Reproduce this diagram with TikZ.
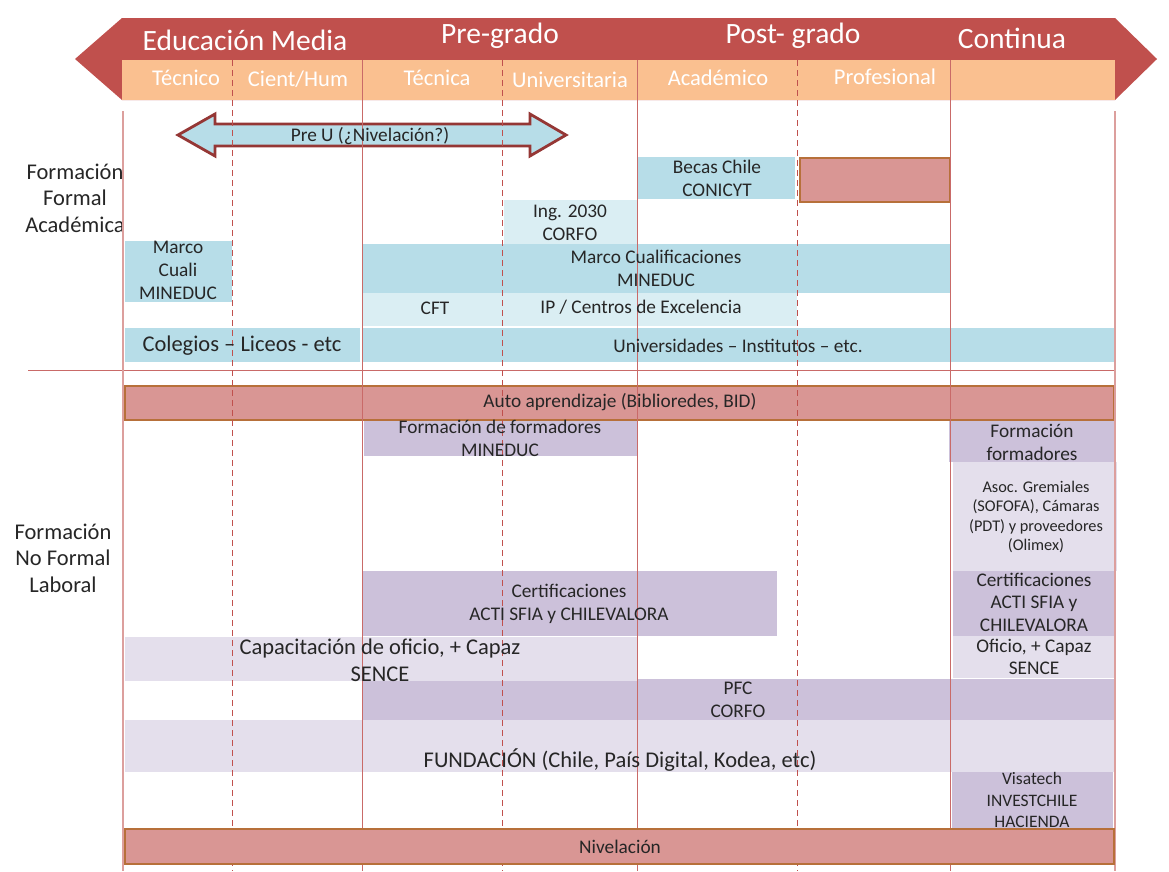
\documentclass[tikz,border=0pt]{standalone}
\usepackage{fontspec}
\setmainfont{Carlito}
\definecolor{bandred}{HTML}{C0504D}
\definecolor{bandor}{HTML}{FAC090}
\definecolor{cblue}{HTML}{B7DDE8}
\definecolor{clblue}{HTML}{DAEEF3}
\definecolor{cpurp}{HTML}{CCC1DA}
\definecolor{clpurp}{HTML}{E4DFEC}
\definecolor{cpink}{HTML}{D99694}
\definecolor{cbrown}{HTML}{B7703A}
\definecolor{cdark}{HTML}{953735}
\definecolor{ctext}{HTML}{262626}
\newcommand\bx[6]{\node[#2,anchor=north west,minimum width={#5-#3},minimum height={#6-#4}] (#1) at (#3,#4) {};}
\tikzset{
  base/.style={inner sep=0pt,outer sep=0pt},
  bluebox/.style={base,fill=cblue},
  lbluebox/.style={base,fill=clblue},
  purpbox/.style={base,fill=cpurp},
  lpurpbox/.style={base,fill=clpurp},
  pinkbox/.style={base,fill=cpink,draw=cbrown,line width=2.8pt},
  gridsolid/.style={draw=bandred!85,line width=0.9pt},
  griddash/.style={draw=bandred,line width=0.9pt,dash pattern=on 6pt off 4pt},
  gridedge/.style={draw=bandred!55,line width=1.2pt},
  txt/.style={text=ctext,align=center,inner sep=0pt},
  t16/.style={txt,font=\fontsize{19.3}{23}\selectfont},
  tbig/.style={txt,font=\fontsize{22.5}{27}\selectfont},
  t14/.style={txt,font=\fontsize{16.3}{19.5}\selectfont},
  t14b/.style={txt,font=\fontsize{17.5}{21.5}\selectfont},
  side/.style={txt,font=\fontsize{22.5}{26.5}\selectfont},
  head/.style={text=white,inner sep=0pt,font=\fontsize{29.5}{32}\selectfont},
  sub/.style={text=white,inner sep=0pt,font=\fontsize{22.5}{24}\selectfont},
}
\begin{document}
\begin{tikzpicture}[x=1pt,y=-1pt]
\useasboundingbox (0,0) rectangle (1169,871);
% banner
\fill[bandred] (75,59) -- (122,18) -- (1115,18) -- (1157,59) -- (1115,100) -- (122,100) -- cycle;
\fill[bandor] (122,60) rectangle (1115,100);
\node[head] (hEM) at (245,40) {Educación Media};
\node[head] (hPG) at (500,36) {Pre-grado};
\node[head] (hPost) at (793,36) {Post- grado};
\node[head] (hCont) at (1012,38) {Continua};
\node[sub] (sTec) at (186,78) {Técnico};
\node[sub] (sCH) at (298,79) {Cient/Hum};
\node[sub] (sTca) at (437,78) {Técnica};
\node[sub] (sUni) at (570,80) {Universitaria};
\node[sub] (sAca) at (718,78) {Académico};
\node[sub] (sPro) at (885,77) {Profesional};
% side labels
\node[side] (lFormal) at (75,198) {Formación\\Formal\\Académica};
\node[side] (lNoFormal) at (63,558) {Formación\\No Formal\\Laboral};
% separator
\draw[bandred!85,line width=0.9pt] (28,370) -- (1115,370);
% Pre U arrow
\filldraw[fill=cblue,draw=cdark,line width=2.8pt,line join=miter]
  (178,135) -- (215,114) -- (215,124) -- (530,124) -- (530,114) -- (566,135)
  -- (530,156) -- (530,146) -- (215,146) -- (215,156) -- cycle;
% formal boxes
\bx{becas}{bluebox}{638}{157}{795}{199}
\bx{redA}{pinkbox}{800}{158}{950}{202}
\bx{ing}{lbluebox}{504}{200}{637}{244}
\bx{mcuali}{bluebox}{125}{241}{232}{302}
\bx{mcual}{bluebox}{362}{244}{950}{293}
\bx{cft}{lbluebox}{362}{293}{797}{326}
\bx{coleg}{bluebox}{125}{328}{360}{362}
\bx{univ}{bluebox}{362}{328}{1114}{362}
% non-formal boxes
\bx{auto}{pinkbox}{125}{386}{1114}{420}
\bx{ffmin}{purpbox}{364}{421}{637}{456}
\bx{ffc}{purpbox}{949}{421}{1116}{462}
\bx{asoc}{lpurpbox}{953}{462}{1117}{571}
\bx{certL}{purpbox}{362}{571}{777}{636}
\bx{certR}{purpbox}{953}{571}{1115}{636}
\bx{pfc}{purpbox}{362}{679}{1115}{720}
\bx{capac}{lpurpbox}{125}{637}{637}{681}
\bx{ofiR}{lpurpbox}{953}{636}{1115}{678}
\bx{fund}{lpurpbox}{125}{720}{1115}{772}
\bx{visa}{purpbox}{952}{772}{1113}{829}
% grid lines
\draw[gridedge] (123,111) -- (123,871);
\draw[gridedge] (1115,111) -- (1115,871);
\foreach \x in {362,637,950} \draw[gridsolid] (\x,60) -- (\x,871);
\foreach \x in {232,502,797} \draw[griddash] (\x,60) -- (\x,871);
% nivelacion
\bx{niv}{pinkbox}{125}{829}{1114}{864}
% texts
\node[t16] (tPreU) at (370,136) {Pre U (¿Nivelación?)};
\node[t16] (tBecas) at (717,178) {Becas Chile\\CONICYT};
\node[t16] (tIng) at (570,223) {Ing. 2030\\CORFO};
\node[t16] (tMcuali) at (178,270) {Marco\\Cuali\\MINEDUC};
\node[t16] (tMcual) at (656,268) {Marco Cualificaciones\\MINEDUC};
\node[t16] (tCFT) at (435,308) {CFT};
\node[t16] (tIP) at (641,307) {IP / Centros de Excelencia};
\node[tbig] (tColeg) at (242,346) {Colegios – Liceos - etc};
\node[t16] (tUniv) at (738,346) {Universidades – Institutos – etc.};
\node[t16] (tAuto) at (620,402) {Auto aprendizaje (Biblioredes, BID)};
\node[t16] (tFFmin) at (500,438) {Formación de formadores\\MINEDUC};
\node[t16] (tFFc) at (1032,442) {Formación\\formadores};
\node[t14] (tAsoc) at (1036,517) {Asoc. Gremiales\\(SOFOFA), Cámaras\\(PDT) y proveedores\\(Olimex)};
\node[t16] (tCertL) at (569,604) {Certificaciones\\ACTI SFIA y CHILEVALORA};
\node[txt,font=\fontsize{19.3}{22.5}\selectfont] (tCertR) at (1034,602) {Certificaciones\\ACTI SFIA y\\CHILEVALORA};
\node[tbig] (tCapac) at (380,660) {Capacitación de oficio, + Capaz\\SENCE};
\node[txt,font=\fontsize{19.3}{21.5}\selectfont] (tOfiR) at (1034,657) {Oficio, + Capaz\\SENCE};
\node[t16] (tPFC) at (738,700) {PFC\\CORFO};
\node[tbig] (tFund) at (620,760) {FUNDACIÓN (Chile, País Digital, Kodea, etc)};
\node[t14b] (tVisa) at (1032,800) {Visatech\\INVESTCHILE\\HACIENDA};
\node[t16] (tNiv) at (620,847) {Nivelación};
\end{tikzpicture}
\end{document}
